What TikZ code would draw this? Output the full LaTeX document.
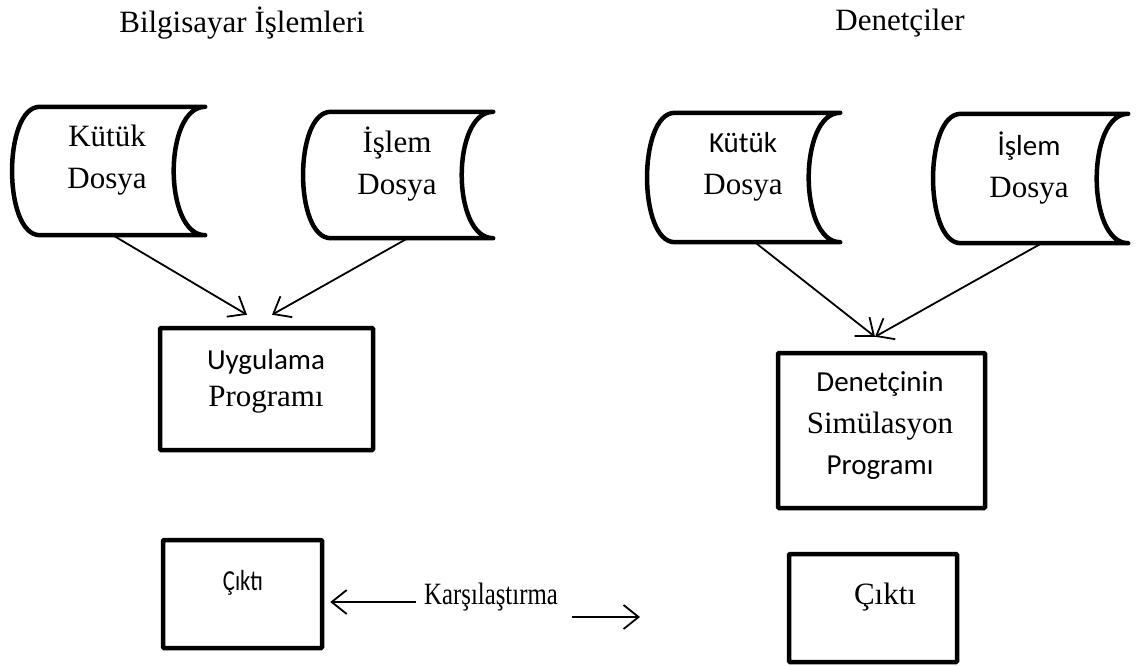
\documentclass[tikz,border=0pt]{standalone}
\usepackage{fontspec}
\setmainfont{Liberation Serif}
\newfontfamily\calfont{Carlito}
\usetikzlibrary{arrows.meta,calc}

\tikzset{
  sdbox/.style={inner sep=0pt, draw=none},
  sdline/.style={line width=4.5pt, line join=round, line cap=round},
  procbox/.style={draw, line width=4.5pt, inner sep=0pt, rounded corners=1pt},
  conn/.style={line width=1.8pt, -{Straight Barb[length=15pt,width=24pt,line width=1.8pt]}},
  lbl/.style={align=center, inner sep=0pt, font=\fontsize{31}{42}\selectfont},
  title/.style={inner sep=0pt, font=\fontsize{31}{38}\selectfont}
}

% stored-data outline: rounded left side, concave right side
\newcommand\sdoutline[1]{%
  \draw[sdline] ($(#1.north west)+(28,0)$) -- (#1.north east)
    .. controls ($(#1.north east)+(-42,0)$) and ($(#1.south east)+(-42,0)$) .. (#1.south east)
    -- ($(#1.south west)+(28,0)$)
    .. controls ($(#1.south west)+(-9,0)$) and ($(#1.north west)+(-9,0)$) .. cycle;}
\newcommand\cf[1]{{\calfont\fontsize{29}{42}\selectfont #1}}

\begin{document}
\begin{tikzpicture}[x=1pt,y=-1pt]
\useasboundingbox (0,0) rectangle (1140,666);

% column titles
\node[title] (t1) at (242,23) {Bilgisayar İşlemleri};
\node[title] (t2) at (900,23) {Denetçiler};

% stored files
\node[sdbox, minimum width=193, minimum height=128] (kL) at (108.5,171) {};
\node[sdbox, minimum width=190, minimum height=126] (iL) at (398,175) {};
\node[sdbox, minimum width=193, minimum height=129] (kR) at (743.5,177.5) {};
\node[sdbox, minimum width=195, minimum height=129] (iR) at (1030.5,178.5) {};
\sdoutline{kL}
\sdoutline{iL}
\sdoutline{kR}
\sdoutline{iR}
\node[lbl] (kLt) at (107,160) {Kütük\\Dosya};
\node[lbl] (iLt) at (397,164) {İşlem\\Dosya};
\node[lbl] (kRt) at (743,166.5) {\cf{Kütük}\\Dosya};
\node[lbl] (iRt) at (1029,168) {\cf{İşlem}\\Dosya};

% programs
\node[procbox, minimum width=213, minimum height=122] (uyg) at (266.5,389) {};
\node[lbl, font=\fontsize{31}{37}\selectfont] (uygt) at (266,381) {\cf{Uygulama}\\Programı};
\node[procbox, minimum width=207, minimum height=155] (den) at (881.5,430.5) {};
\node[lbl, font=\fontsize{31}{41.5}\selectfont] (dent) at (880,426) {\cf{Denetçinin}\\Simülasyon\\\cf{Programı}};

% outputs
\node[procbox, minimum width=159, minimum height=108] (cL) at (242.5,594) {};
\node[lbl] (cLt) at (243,583) {\calfont\fontsize{29}{35}\selectfont\scalebox{0.78}[1]{Çıktı}};
\node[procbox, minimum width=168, minimum height=108] (cR) at (873,608) {};
\node[lbl] (cRt) at (885,597) {Çıktı};

% comparison
\node[lbl] (kars) at (491,597) {\scalebox{0.8}[1]{Karşılaştırma}};
\coordinate (rtip) at (640,617);

% connectors
\draw[conn] ($(kL.south west)+(101,0)$) -- ($(uyg.north)+(-19.5,-11)$);
\draw[conn] ($(iL.south west)+(105,0)$) -- ($(uyg.north)+(5.5,-11)$);
\draw[conn] ($(kR.south west)+(108,0)$) -- ($(den.north)+(-6.5,-14)$);
\draw[conn] ($(iR.south west)+(109,0)$) -- ($(den.north)+(-6.5,-14)$);
\draw[conn] ($(kars.west)+(-8,5)$) -- ($(cL.east)+(6,8)$);
\draw[conn] ($(kars.east)+(14,20)$) -- (rtip);
\end{tikzpicture}
\end{document}
